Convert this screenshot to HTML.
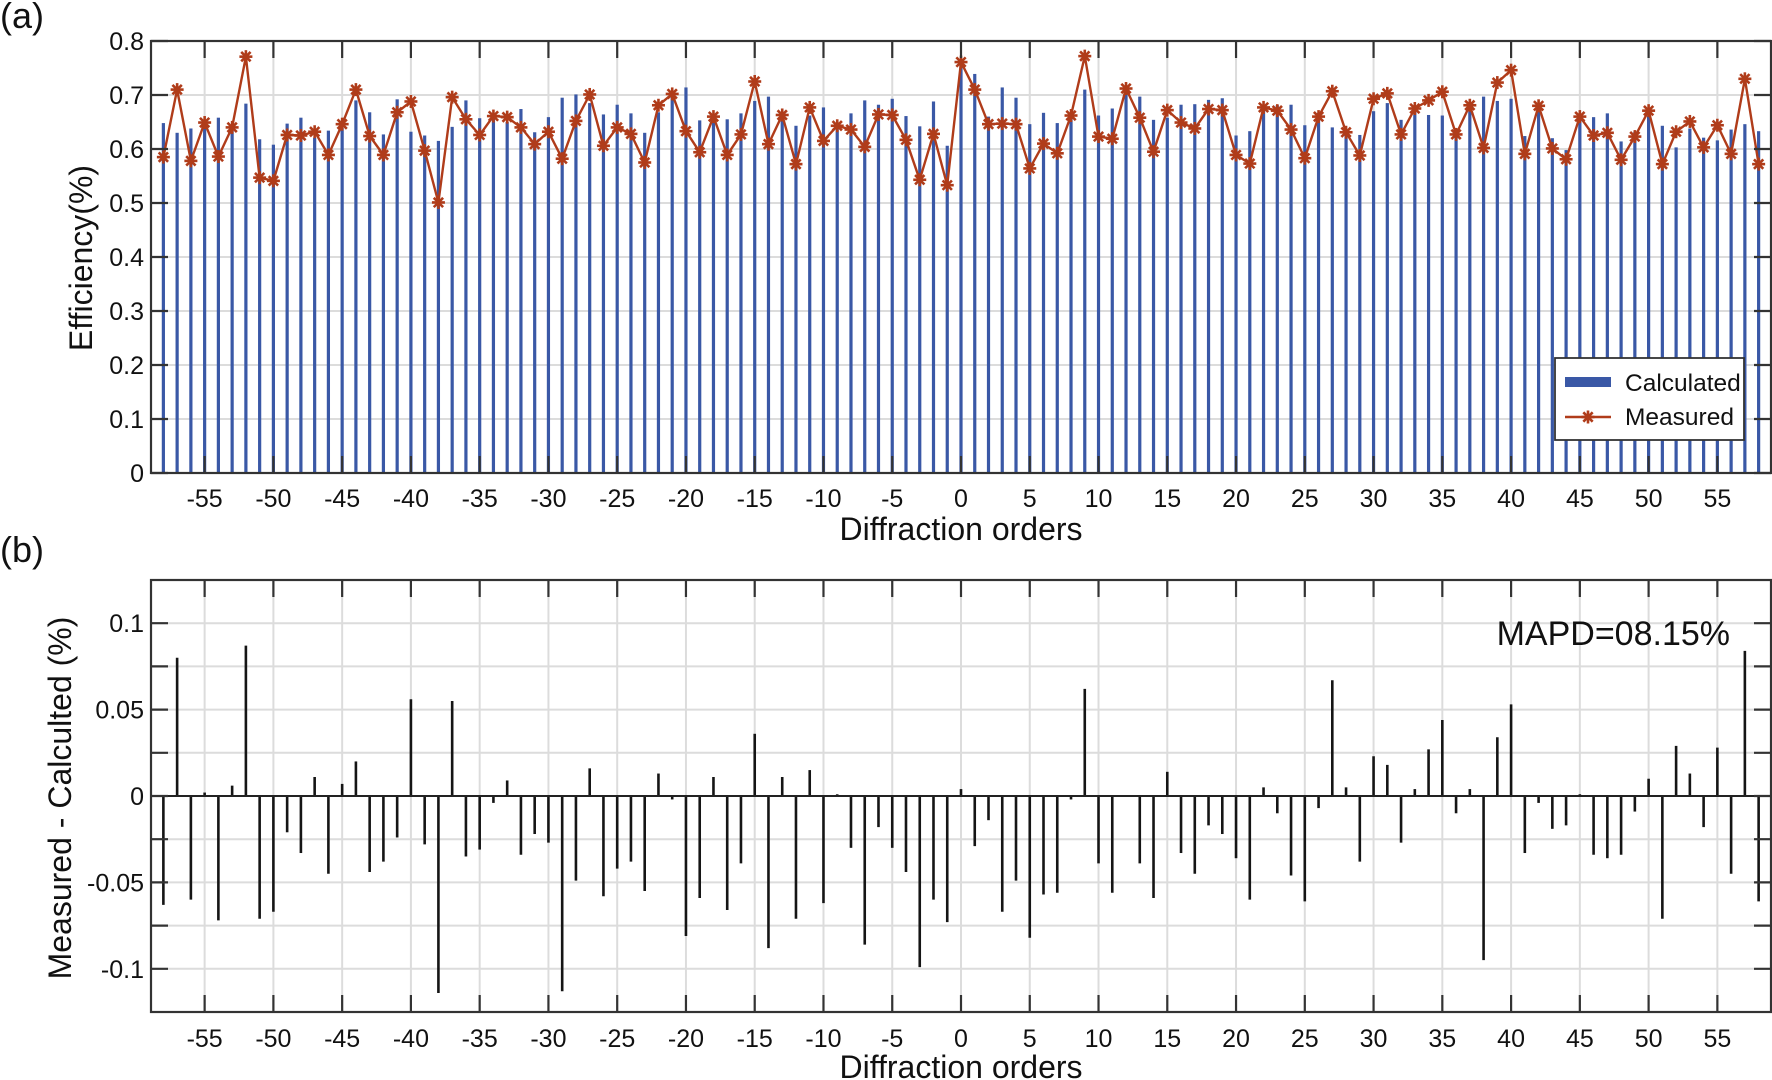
<!DOCTYPE html>
<html><head><meta charset="utf-8">
<style>
html,body{margin:0;padding:0;background:#fff;}
svg{display:block;font-family:"Liberation Sans",Arial,sans-serif;}
</style></head>
<body>
<svg id="chart" width="1772" height="1080" viewBox="0 0 1772 1080" xmlns="http://www.w3.org/2000/svg"></svg>
<script>
const orders = [];
for (let n = -58; n <= 58; n++) orders.push(n);
const measured = [0.585,0.71,0.578,0.649,0.586,0.64,0.771,0.547,0.541,0.626,0.625,0.632,0.589,0.646,0.71,0.624,0.589,0.668,0.688,0.597,0.501,0.696,0.655,0.626,0.661,0.659,0.64,0.609,0.632,0.582,
0.652,0.701,0.606,0.64,0.628,0.575,0.681,0.702,0.633,0.594,0.66,0.589,0.627,0.725,0.609,0.663,0.572,0.677,0.615,0.643,0.636,0.604,0.664,0.663,0.617,0.543,0.628,0.533,0.761,0.71,
0.646,0.647,0.646,0.564,0.61,0.592,0.662,0.772,0.623,0.619,0.712,0.658,0.595,0.672,0.649,0.638,0.674,0.672,0.589,0.573,0.677,0.671,0.636,0.583,0.66,0.707,0.631,0.588,0.693,0.703,
0.627,0.675,0.69,0.706,0.627,0.681,0.602,0.723,0.746,0.591,0.68,0.601,0.581,0.66,0.625,0.63,0.58,0.623,0.671,0.572,0.632,0.651,0.603,0.644,0.591,0.73,0.572];
const calculated = [0.648,0.630,0.638,0.647,0.658,0.634,0.684,0.618,0.608,0.647,0.658,0.621,0.634,0.639,0.690,0.668,0.627,0.692,0.632,0.625,0.615,0.641,0.690,0.657,0.665,0.650,0.674,0.631,0.659,0.695,
0.701,0.685,0.664,0.682,0.666,0.630,0.668,0.704,0.714,0.653,0.649,0.655,0.666,0.689,0.697,0.652,0.643,0.662,0.677,0.642,0.666,0.690,0.682,0.693,0.661,0.642,0.688,0.606,0.757,0.739,
0.660,0.714,0.695,0.646,0.667,0.648,0.664,0.710,0.662,0.675,0.712,0.697,0.654,0.658,0.682,0.683,0.691,0.694,0.625,0.633,0.672,0.681,0.682,0.644,0.667,0.640,0.626,0.626,0.670,0.685,
0.654,0.671,0.663,0.662,0.637,0.677,0.697,0.689,0.693,0.624,0.684,0.620,0.598,0.659,0.659,0.666,0.614,0.632,0.661,0.643,0.603,0.638,0.621,0.616,0.636,0.646,0.633];
const xTickLabels = [-55,-50,-45,-40,-35,-30,-25,-20,-15,-10,-5,0,5,10,15,20,25,30,35,40,45,50,55];
const yTopTicks = [0,0.1,0.2,0.3,0.4,0.5,0.6,0.7,0.8];
const yBotTicks = [-0.1,-0.05,0,0.05,0.1];
const yBotMinor = [-0.1,-0.075,-0.05,-0.025,0,0.025,0.05,0.075,0.1];
const mapdText = "MAPD=08.15%";

const NS = "http://www.w3.org/2000/svg";
const svg = document.getElementById('chart');
function mk(tag, attrs, parent, text) {
  const e = document.createElementNS(NS, tag);
  for (const k in attrs) e.setAttribute(k, attrs[k]);
  if (text !== undefined) e.textContent = text;
  (parent || svg).appendChild(e);
  return e;
}
const L = 151, R = 1771;
const xmin = -58.9, xmax = 58.9;
const X = v => L + (v - xmin) / (xmax - xmin) * (R - L);
const T1 = 41, B1 = 473;
const Y1 = v => B1 - v / 0.8 * (B1 - T1);
const T2 = 580, B2 = 1012;
const Y2 = v => (T2 + B2) / 2 - v / 0.25 * (B2 - T2);
const TICKFS = 25, TITLEFS = 32;

// ===== Panel (a) =====
const gA = mk('g', {}, svg);


const gridA = mk('g', {stroke:'#dcdcdc','stroke-width':2}, gA);


xTickLabels.forEach(v => mk('line', {x1:X(v),x2:X(v),y1:T1,y2:B1}, gridA));
yTopTicks.forEach(v => mk('line', {x1:L,x2:R,y1:Y1(v),y2:Y1(v)}, gridA));

const barsG = mk('g', {fill:'#3a58a6'}, gA);


orders.forEach((n, i) => {
  const r = mk('rect', {x:X(n)-1.6, y:Y1(calculated[i]), width:3.2, height:B1-Y1(calculated[i])}, barsG);
  
  
});

const lineG = mk('g', {}, gA);


const pts = orders.map((n, i) => X(n).toFixed(1) + ',' + Y1(measured[i]).toFixed(1)).join(' ');
const pl = mk('polyline', {points:pts, fill:'none', stroke:'#b03c1a', 'stroke-width':2.4, 'stroke-linejoin':'round'}, lineG);


function star(cx, cy, r, parent) {
  const g = mk('g', {stroke:'#b03c1a','stroke-width':2.6}, parent);
  mk('line', {x1:cx-r,x2:cx+r,y1:cy,y2:cy}, g);
  mk('line', {x1:cx,x2:cx,y1:cy-r,y2:cy+r}, g);
  const d = r * 0.72;
  mk('line', {x1:cx-d,x2:cx+d,y1:cy-d,y2:cy+d}, g);
  mk('line', {x1:cx-d,x2:cx+d,y1:cy+d,y2:cy-d}, g);
  return g;
}
orders.forEach((n, i) => {
  const s = star(X(n), Y1(measured[i]), 6.5, lineG);
  
  
});

const axA = mk('g', {stroke:'#333','stroke-width':2.2,fill:'none'}, gA);


mk('rect', {x:L, y:T1, width:R-L, height:B1-T1}, axA);
xTickLabels.forEach(v => {
  mk('line', {x1:X(v),x2:X(v),y1:B1,y2:B1-17}, axA);
  mk('line', {x1:X(v),x2:X(v),y1:T1,y2:T1+17}, axA);
});
yTopTicks.forEach(v => {
  mk('line', {x1:L,x2:L+17,y1:Y1(v),y2:Y1(v)}, axA);
  mk('line', {x1:R,x2:R-17,y1:Y1(v),y2:Y1(v)}, axA);
});
const xtA = mk('g', {'font-size':TICKFS,'text-anchor':'middle',fill:'#111'}, gA);


xTickLabels.forEach(v => mk('text', {x:X(v), y:507}, xtA, String(v)));
const ytA = mk('g', {'font-size':TICKFS,'text-anchor':'end',fill:'#111'}, gA);


yTopTicks.forEach(v => mk('text', {x:144, y:Y1(v)+9}, ytA, v === 0 ? '0' : v.toFixed(1)));

const leg = mk('g', {}, gA);


mk('rect', {x:1555, y:358, width:189, height:82, fill:'#fff', stroke:'#333', 'stroke-width':1.8}, leg);
const le1 = mk('g', {}, leg);


mk('rect', {x:1565, y:377, width:46, height:10, fill:'#3a58a6'}, le1);
mk('text', {x:1625, y:391, 'font-size':24.5, fill:'#111'}, le1, 'Calculated');
const le2 = mk('g', {}, leg);


mk('line', {x1:1565, x2:1611, y1:417, y2:417, stroke:'#b03c1a', 'stroke-width':2.4}, le2);
star(1588, 417, 6.5, le2);
mk('text', {x:1625, y:425, 'font-size':24.5, fill:'#111'}, le2, 'Measured');

const xlA = mk('text', {x:961, y:540, 'font-size':TITLEFS, 'text-anchor':'middle', fill:'#111'}, gA, 'Diffraction orders');


const ylA = mk('text', {x:0, y:0, 'font-size':TITLEFS, 'text-anchor':'middle', fill:'#111', transform:'translate(92,258) rotate(-90)'}, gA, 'Efficiency(%)');


const pa = mk('text', {x:0, y:28, 'font-size':36, fill:'#111'}, gA, '(a)');



// ===== Panel (b) =====
const gB = mk('g', {}, svg);


const gridB = mk('g', {stroke:'#dcdcdc','stroke-width':2}, gB);


xTickLabels.forEach(v => mk('line', {x1:X(v),x2:X(v),y1:T2,y2:B2}, gridB));
yBotMinor.forEach(v => mk('line', {x1:L,x2:R,y1:Y2(v),y2:Y2(v)}, gridB));

const stemG = mk('g', {stroke:'#151515','stroke-width':2.6}, gB);


orders.forEach((n, i) => {
  const d = measured[i] - calculated[i];
  const ln = mk('line', {x1:X(n), x2:X(n), y1:Y2(0), y2:Y2(d)}, stemG);
  
  
});
const zl = mk('line', {x1:L, x2:R, y1:Y2(0), y2:Y2(0), stroke:'#222', 'stroke-width':2}, gB);



const axB = mk('g', {stroke:'#333','stroke-width':2.2,fill:'none'}, gB);


mk('rect', {x:L, y:T2, width:R-L, height:B2-T2}, axB);
xTickLabels.forEach(v => {
  mk('line', {x1:X(v),x2:X(v),y1:B2,y2:B2-17}, axB);
  mk('line', {x1:X(v),x2:X(v),y1:T2,y2:T2+17}, axB);
});
yBotMinor.forEach(v => {
  mk('line', {x1:L,x2:L+17,y1:Y2(v),y2:Y2(v)}, axB);
  mk('line', {x1:R,x2:R-17,y1:Y2(v),y2:Y2(v)}, axB);
});
const xtB = mk('g', {'font-size':TICKFS,'text-anchor':'middle',fill:'#111'}, gB);


xTickLabels.forEach(v => mk('text', {x:X(v), y:1047}, xtB, String(v)));
const ytB = mk('g', {'font-size':TICKFS,'text-anchor':'end',fill:'#111'}, gB);


yBotTicks.forEach(v => mk('text', {x:144, y:Y2(v)+9}, ytB, v === 0 ? '0' : String(v)));

const xlB = mk('text', {x:961, y:1078, 'font-size':TITLEFS, 'text-anchor':'middle', fill:'#111'}, gB, 'Diffraction orders');


const ylB = mk('text', {x:0, y:0, 'font-size':TITLEFS, 'text-anchor':'middle', fill:'#111', transform:'translate(71,798) rotate(-90)'}, gB, 'Measured - Calculted (%)');


const pb = mk('text', {x:0, y:562, 'font-size':36, fill:'#111'}, gB, '(b)');


const mt = mk('text', {x:1730, y:645, 'font-size':34, 'text-anchor':'end', fill:'#111'}, gB, mapdText);


</script>
</body></html>
